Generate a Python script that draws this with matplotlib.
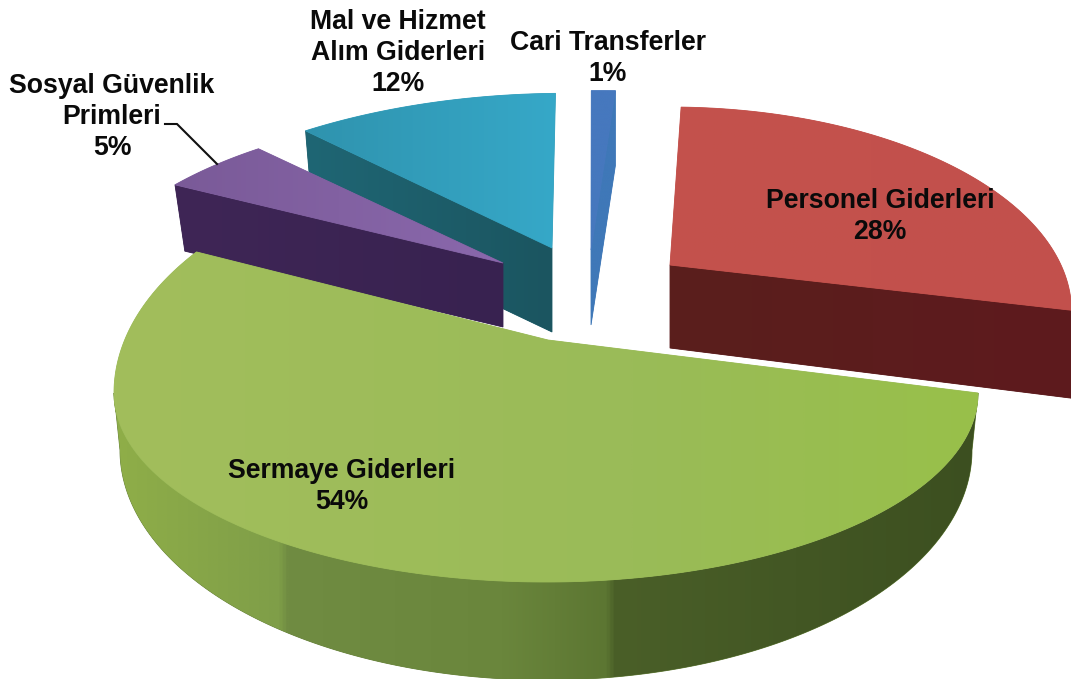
import numpy as np
import matplotlib
matplotlib.use("Agg")
import matplotlib.pyplot as plt
from matplotlib.colors import LinearSegmentedColormap
from matplotlib.patches import Polygon

categories = ["Personel Giderleri", "Sermaye Giderleri", "Sosyal Güvenlik\nPrimleri",
              "Mal ve Hizmet\nAlım Giderleri", "Cari Transferler"]
shares = [28, 54, 5, 12, 1]
start_angle = 88.0

# slice geometry on the page:
# apex x, apex y, half-width, half-height, depth, bottom-rim scale x, y, perspective, shear
geometry = [
    (670, 265, 391, 194, 83, 1.01, 1.12, 0.228, 0),
    None,
    (503, 263, 416, 193, 64, 0.97, 0.97, 0.28, 0),
    (552, 248, 436, 198, 84, 0.97, 0.97, 0.28, 13),
    (591, 250, 490, 204, 75, 1.0, 1.0, 0.28, 11),
]
# the large front slice: rim is an egg-shaped oval
front_apex = (548, 340)
front_top = (546, 393, 432, 240, 189)      # cx, cy, half-width, upper, lower half-height
front_low = (546, 450, 426, 230)           # cx, cy, half-width, lower half-height
front_sweep = 216.0

top_colors = [
    [(0, "#C4524C"), (1, "#C2504C")],
    [(0, "#A2BE5C"), (0.6, "#9ABB58"), (1, "#98C04A")],
    [(0, "#7A5A98"), (1, "#8A68AC")],
    [(0, "#2F93AE"), (1, "#36A8C8")],
    [(0, "#4678BE"), (1, "#4678BE")],
]
wall_colors = [
    [(0, "#5A1F1C"), (1, "#5E1A1E")],
    [(0, "#8FAE48"), (0.19, "#7F9E48"), (0.20, "#708C42"), (0.45, "#6A863C"),
     (0.57, "#5C7632"), (0.58, "#4A5F28"), (1, "#3C4F20")],
    [(0, "#3F2656"), (1, "#382250")],
    [(0, "#1F6674"), (1, "#1B5560")],
    [(0, "#3F78B8"), (1, "#3F78B8")],
]
label_pos = [(880, 216.5), (342, 486.5), (112, 117), (398, 53), (608, 58.5)]

fig = plt.figure(figsize=(10.71, 6.79), dpi=100, facecolor="white")
ax = fig.add_axes([0, 0, 1, 1])


def rim(g, th, lower=False):
    px, py, a, b, d, scx, scy, k, shear = g
    t = np.radians(th)
    X, Y = np.cos(t), np.sin(t)
    s = 1 / (1 + k * Y)
    x, y = (a * X + shear * Y * (1 + k)) * s, -b * Y * s
    if lower:
        return np.column_stack([px + scx * x, py + d + scy * y])
    return np.column_stack([px + x, py + y])


def front_rim(phi, lower=False):
    t = np.radians(phi)
    X, Y = np.cos(t), np.sin(t)
    if lower:
        cx, cy, a, b = front_low
        return np.column_stack([cx + a * X, cy - b * Y])
    cx, cy, a, up, dn = front_top
    return np.column_stack([cx + a * X, cy - np.where(Y > 0, up, dn) * Y])


def fill(poly, stops, z):
    poly = np.asarray(poly)
    cmap = LinearSegmentedColormap.from_list("c", stops)
    x0, x1 = poly[:, 0].min(), poly[:, 0].max()
    y0, y1 = poly[:, 1].min(), poly[:, 1].max()
    im = ax.imshow(np.linspace(0, 1, 512)[None, :], cmap=cmap, extent=(x0, x1, y1, y0),
                   aspect="auto", zorder=z, interpolation="bilinear", vmin=0, vmax=1)
    patch = Polygon(poly, closed=True, transform=ax.transData, fc="none", ec="none")
    ax.add_patch(patch)
    im.set_clip_path(patch)


def edge(poly, stops, z):
    # soft edge to hide the stair-stepping of the clipped gradient
    c = LinearSegmentedColormap.from_list("c", stops)(0.5)
    ax.add_patch(Polygon(poly, closed=True, fc=c, ec=c, lw=0.6, zorder=z))


bounds = start_angle - np.cumsum([0] + shares) * 3.6
gain = front_sweep / (bounds[1] - bounds[2])
# painter's order: back slices first, the large front slice last
order = [4, 3, 2, 0, 1]
face_end = {0: 1, 2: 0, 3: 0, 4: 1}

for z, i in enumerate(order):
    th0, th1 = bounds[i], bounds[i + 1]
    tc, wc = top_colors[i], wall_colors[i]
    base = z * 10 + 1
    if i == 1:
        phi_end = -(th0 - th1) * gain
        wall = np.vstack([front_rim(np.linspace(0, -180, 240)),
                          front_rim(np.linspace(-180, 0, 240), lower=True)])
        edge(wall, wc, base)
        fill(wall, wc, base + 1)
        surface = np.vstack([[front_apex], front_rim(np.linspace(0, phi_end, 300))])
    else:
        g = geometry[i]
        apex = np.array([[g[0], g[1]]], float)
        th_face = (th0, th1)[face_end[i]]
        p = rim(g, np.array([th_face]))
        q = rim(g, np.array([th_face]), lower=True)
        face = np.vstack([apex, p, q, apex + [0, g[4]]])
        edge(face, wc, base)
        fill(face, wc, base + 1)
        surface = np.vstack([apex, rim(g, np.linspace(th0, th1, 160))])
    edge(surface, tc, base + 2)
    fill(surface, tc, base + 3)

ax.plot([165, 177, 217], [124, 124, 164], color="#111111", lw=1.5, zorder=80,
        solid_joinstyle="miter")

for name, share, (x, y) in zip(categories, shares, label_pos):
    ax.text(x, y, f"{name}\n{share}%", ha="center", va="center", zorder=90,
            fontsize=19.2, fontweight="bold", family="Liberation Sans",
            linespacing=1.24, color="#0A0A0A")

ax.set_xlim(0, 1071)
ax.set_ylim(679, 0)
ax.axis("off")
fig.savefig("out.png", dpi=100, facecolor="white")
